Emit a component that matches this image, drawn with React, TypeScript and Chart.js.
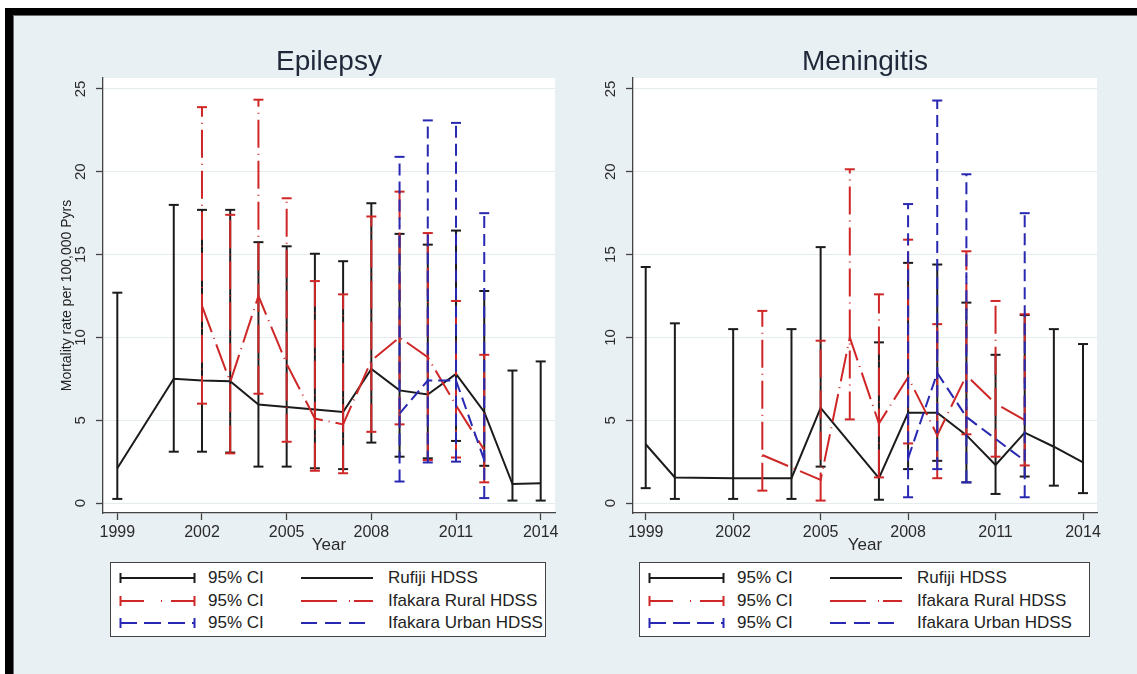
import React, { useEffect, useRef } from 'react';
import { Chart, registerables } from 'chart.js';

Chart.register(...registerables);

const FONT = "'Liberation Sans', Arial, Helvetica, sans-serif";
Chart.defaults.font.family = FONT;

const YEARS = [1999, 2000, 2001, 2002, 2003, 2004, 2005, 2006, 2007, 2008, 2009, 2010, 2011, 2012, 2013, 2014];
const X_TICKS = [1999, 2002, 2005, 2008, 2011, 2014];
const Y_TICKS = [0, 5, 10, 15, 20, 25];

// Epilepsy
const EPI_RUFIJI = [2.1, null, 7.5, 7.4, 7.35, 5.95, 5.8, 5.65, 5.5, 8.1, 6.8, 6.55, 7.8, 5.5, 1.15, 1.2];
const EPI_RUFIJI_LO = [0.25, null, 3.1, 3.1, 3.05, 2.2, 2.2, 2.1, 2.05, 3.65, 2.8, 2.7, 3.75, 2.25, 0.15, 0.15];
const EPI_RUFIJI_HI = [12.7, null, 18.0, 17.7, 17.7, 15.75, 15.5, 15.05, 14.6, 18.1, 16.25, 15.6, 16.45, 12.8, 8.0, 8.55];
const EPI_RURAL = [null, null, null, 11.9, 7.3, 12.5, 8.4, 5.1, 4.75, 8.6, 10.0, 8.8, 5.9, 3.2, null, null];
const EPI_RURAL_LO = [null, null, null, 6.0, 3.0, 6.6, 3.7, 1.95, 1.8, 4.3, 4.75, 2.6, 2.75, 1.25, null, null];
const EPI_RURAL_HI = [null, null, null, 23.9, 17.4, 24.35, 18.4, 13.4, 12.6, 17.3, 18.8, 16.3, 12.2, 8.95, null, null];
const EPI_URBAN = [null, null, null, null, null, null, null, null, null, null, 5.4, 7.4, 7.4, 2.6, null, null];
const EPI_URBAN_LO = [null, null, null, null, null, null, null, null, null, null, 1.3, 2.45, 2.5, 0.3, null, null];
const EPI_URBAN_HI = [null, null, null, null, null, null, null, null, null, null, 20.9, 23.1, 22.95, 17.5, null, null];

// Meningitis
const MEN_RUFIJI = [3.55, 1.55, null, 1.5, null, 1.5, 5.75, null, 1.5, 5.45, 5.45, 4.1, 2.3, 4.25, 3.4, 2.45];
const MEN_RUFIJI_LO = [0.9, 0.25, null, 0.25, null, 0.25, 2.2, null, 0.2, 2.05, 2.55, 1.25, 0.55, 1.6, 1.05, 0.6];
const MEN_RUFIJI_HI = [14.25, 10.85, null, 10.5, null, 10.5, 15.45, null, 9.7, 14.5, 14.4, 12.1, 8.95, 11.35, 10.5, 9.6];
const MEN_RURAL = [null, null, null, null, 2.9, null, 1.4, 10.0, 4.8, 7.6, 4.1, 7.7, 6.0, 5.0, null, null];
const MEN_RURAL_LO = [null, null, null, null, 0.75, null, 0.15, 5.05, 1.55, 3.6, 1.5, 4.15, 2.8, 2.27, null, null];
const MEN_RURAL_HI = [null, null, null, null, 11.6, null, 9.8, 20.15, 12.6, 15.9, 10.8, 15.2, 12.2, 11.4, null, null];
const MEN_URBAN = [null, null, null, null, null, null, null, null, null, 2.7, 7.85, 5.2, null, 2.55, null, null];
const MEN_URBAN_LO = [null, null, null, null, null, null, null, null, null, 0.35, 2.05, 1.25, null, 0.35, null, null];
const MEN_URBAN_HI = [null, null, null, null, null, null, null, null, null, 18.05, 24.3, 19.85, null, 17.5, null, null];

const SERIES_NAMES = ['Rufiji HDSS', 'Ifakara Rural HDSS', 'Ifakara Urban HDSS'];
const CI_LABEL = '95% CI';

const BLACK = '#1b1b1b';
const RED = '#cf2727';
const BLUE = '#2828b2';
const COLORS = [BLACK, RED, BLUE];
const DASHES: number[][] = [[], [28, 6, 1, 6], [12, 6]];

type Num = number | null;
type Series = { est: Num[]; lo: Num[]; hi: Num[] };

function ciPoints(lo: Num[], hi: Num[]) {
  const pts: { x: number; y: number | null }[] = [];
  YEARS.forEach((yr, i) => {
    if (lo[i] != null && hi[i] != null) {
      pts.push({ x: yr, y: lo[i] as number }, { x: yr, y: hi[i] as number }, { x: yr, y: null });
    }
  });
  return pts;
}

function estPoints(est: Num[]) {
  return YEARS.map((yr, i) => ({ x: yr, y: est[i] })).filter((p) => p.y != null);
}

const plotBg = {
  id: 'plotBg',
  beforeDraw(chart: any) {
    const { ctx, chartArea } = chart;
    if (!chartArea) return;
    ctx.save();
    ctx.fillStyle = '#ffffff';
    ctx.fillRect(chartArea.left, chartArea.top, chartArea.right - chartArea.left, chartArea.bottom - chartArea.top);
    ctx.restore();
  },
};

function buildConfig(title: string, series: Series[], o: { xMin: number; xMax: number; yWidth: number; padRight: number; yTitle: boolean }) {
  const datasets: any[] = [];
  series.forEach((s, i) => {
    datasets.push({
      type: 'line',
      label: CI_LABEL,
      data: ciPoints(s.lo, s.hi),
      borderColor: COLORS[i],
      backgroundColor: COLORS[i],
      borderWidth: 2,
      borderDash: DASHES[i],
      pointStyle: 'line',
      pointRadius: 5,
      pointBorderWidth: 2,
      pointBorderColor: COLORS[i],
      pointBackgroundColor: COLORS[i],
      pointHitRadius: 0,
      spanGaps: false,
      fill: false,
      tension: 0,
      order: 10 - 2 * i,
    });
    datasets.push({
      type: 'line',
      label: SERIES_NAMES[i],
      data: estPoints(s.est),
      borderColor: COLORS[i],
      backgroundColor: COLORS[i],
      borderWidth: 2,
      borderDash: DASHES[i],
      pointRadius: 0,
      pointHitRadius: 0,
      fill: false,
      tension: 0,
      order: 9 - 2 * i,
    });
  });

  return {
    type: 'line',
    data: { datasets },
    plugins: [plotBg],
    options: {
      animation: false,
      responsive: false,
      devicePixelRatio: 1,
      events: [],
      layout: { padding: { left: 0, right: o.padRight, top: 0, bottom: 0 } },
      plugins: {
        legend: { display: false },
        tooltip: { enabled: false },
        title: {
          display: true,
          text: title,
          fullSize: false,
          color: '#1e2838',
          font: { size: 28, weight: 'normal', family: FONT, lineHeight: 1 },
          padding: { top: 32, bottom: 2 },
        },
      },
      scales: {
        x: {
          type: 'linear',
          min: o.xMin,
          max: o.xMax,
          afterBuildTicks: (scale: any) => {
            scale.ticks = X_TICKS.map((v) => ({ value: v }));
          },
          afterFit: (scale: any) => {
            scale.height = 43;
          },
          ticks: {
            autoSkip: false,
            minRotation: 0,
            maxRotation: 0,
            padding: 3,
            color: '#2a2a2a',
            font: { size: 16, family: FONT },
            callback: (v: any) => String(v),
          },
          grid: { display: true, drawOnChartArea: false, drawTicks: true, tickLength: 7, tickColor: '#444', tickWidth: 1.3 },
          border: { display: true, color: '#444', width: 1.3 },
          title: {
            display: true,
            text: 'Year',
            color: '#2a2a2a',
            font: { size: 17, family: FONT },
            padding: { top: 0, bottom: 0 },
          },
        },
        y: {
          type: 'linear',
          min: -0.6,
          max: 25.66,
          afterBuildTicks: (scale: any) => {
            scale.ticks = Y_TICKS.map((v) => ({ value: v }));
          },
          afterFit: (scale: any) => {
            scale.width = o.yWidth;
          },
          ticks: {
            autoSkip: false,
            minRotation: 90,
            maxRotation: 90,
            crossAlign: 'center',
            padding: 7,
            color: '#2a2a2a',
            font: { size: 15, family: FONT },
            callback: (v: any) => String(v),
          },
          grid: { display: true, drawOnChartArea: true, color: '#e4ecef', lineWidth: 1, drawTicks: true, tickLength: 7, tickColor: '#444', tickWidth: 1.3 },
          border: { display: true, color: '#444', width: 1.3 },
          title: {
            display: o.yTitle,
            text: 'Mortality rate per 100,000 Pyrs',
            color: '#222',
            font: { size: 14, family: FONT },
            padding: { top: 43.6, bottom: 0 },
          },
        },
      },
    },
  };
}

function ChartCanvas(props: { left: number; top: number; width: number; height: number; config: any }) {
  const ref = useRef<HTMLCanvasElement | null>(null);
  useEffect(() => {
    if (!ref.current) return;
    const chart = new Chart(ref.current, props.config);
    return () => chart.destroy();
  }, []);
  return (
    <canvas
      ref={ref}
      width={props.width}
      height={props.height}
      style={{ position: 'absolute', left: props.left, top: props.top, width: props.width, height: props.height }}
    />
  );
}

function CiSample({ color, dash }: { color: string; dash: string }) {
  return (
    <svg width={78} height={14} style={{ position: 'absolute', left: 8, top: -7 }}>
      <line x1={1} y1={7} x2={76} y2={7} stroke={color} strokeWidth={2} strokeDasharray={dash} />
      <line x1={1.5} y1={2} x2={1.5} y2={12} stroke={color} strokeWidth={2} />
      <line x1={75.5} y1={2} x2={75.5} y2={12} stroke={color} strokeWidth={2} />
    </svg>
  );
}

function LineSample({ color, dash }: { color: string; dash: string }) {
  return (
    <svg width={74} height={14} style={{ position: 'absolute', left: 190, top: -7 }}>
      <line x1={0} y1={7} x2={72} y2={7} stroke={color} strokeWidth={2} strokeDasharray={dash} />
    </svg>
  );
}

const LEG_CI_DASH = ['', '24 17 1 9 24', '17 7'];
const LEG_LINE_DASH = ['', '36 12 1 4 19', '16 8'];
const ROW_Y = [16, 39, 61];

function LegendBox({ left, width }: { left: number; width: number }) {
  return (
    <div
      style={{
        position: 'absolute',
        left,
        top: 562,
        width,
        height: 75,
        boxSizing: 'border-box',
        border: '1px solid #444',
        background: '#ffffff',
        fontFamily: FONT,
        fontSize: 17,
        color: '#222',
      }}
    >
      {SERIES_NAMES.map((name, i) => (
        <div key={name} style={{ position: 'absolute', left: 0, top: ROW_Y[i] - 1, width: '100%', height: 0 }}>
          <CiSample color={COLORS[i]} dash={LEG_CI_DASH[i]} />
          <span style={{ position: 'absolute', left: 97, top: -10, lineHeight: '20px', whiteSpace: 'nowrap' }}>{CI_LABEL}</span>
          <LineSample color={COLORS[i]} dash={LEG_LINE_DASH[i]} />
          <span style={{ position: 'absolute', left: 277, top: -10, lineHeight: '20px', whiteSpace: 'nowrap' }}>{name}</span>
        </div>
      ))}
    </div>
  );
}

export default function App() {
  const epi: Series[] = [
    { est: EPI_RUFIJI, lo: EPI_RUFIJI_LO, hi: EPI_RUFIJI_HI },
    { est: EPI_RURAL, lo: EPI_RURAL_LO, hi: EPI_RURAL_HI },
    { est: EPI_URBAN, lo: EPI_URBAN_LO, hi: EPI_URBAN_HI },
  ];
  const men: Series[] = [
    { est: MEN_RUFIJI, lo: MEN_RUFIJI_LO, hi: MEN_RUFIJI_HI },
    { est: MEN_RURAL, lo: MEN_RURAL_LO, hi: MEN_RURAL_HI },
    { est: MEN_URBAN, lo: MEN_URBAN_LO, hi: MEN_URBAN_HI },
  ];
  const epiCfg = buildConfig('Epilepsy', epi, { xMin: 1998.493, xMax: 2014.507, yWidth: 88, padRight: 30, yTitle: true });
  const menCfg = buildConfig('Meningitis', men, { xMin: 1998.564, xMax: 2014.48, yWidth: 48, padRight: 40, yTitle: false });

  return (
    <div style={{ position: 'absolute', left: 0, top: 0, width: 1137, height: 674, background: '#ffffff', overflow: 'hidden' }}>
      <div style={{ position: 'absolute', left: 5, top: 8, width: 1132, height: 666, background: '#000' }} />
      <div
        style={{
          position: 'absolute',
          left: 13,
          top: 15,
          width: 1124,
          height: 659,
          boxSizing: 'border-box',
          borderLeft: '1px solid #6a6a6a',
          borderTop: '1px solid #6a6a6a',
          background: '#e9f0f3',
        }}
      />
      <ChartCanvas left={15} top={16} width={570} height={540} config={epiCfg} />
      <ChartCanvas left={585} top={16} width={552} height={540} config={menCfg} />
      <LegendBox left={110} width={436} />
      <LegendBox left={639} width={451} />
    </div>
  );
}
